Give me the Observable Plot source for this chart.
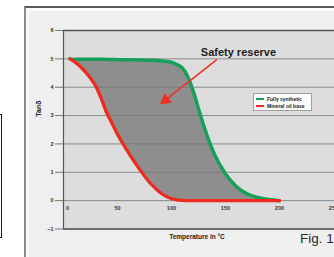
<!DOCTYPE html>
<html><head><meta charset="utf-8">
<script src="https://cdn.jsdelivr.net/npm/d3@7"></script>
<script src="https://cdn.jsdelivr.net/npm/@observablehq/plot@0.6"></script>
<style>
html,body{margin:0;padding:0;background:#fff;}
#wrap{position:relative;width:334px;height:257px;overflow:hidden;background:#fff;font-family:"Liberation Sans",Arial,sans-serif;}
#leftbox{position:absolute;left:-20px;top:114px;width:20px;height:122px;border:1.5px solid #1a1a1a;}
#panel{position:absolute;left:24px;top:6px;width:330px;height:260px;background:#efefef;border-top:2px solid #5a5a5a;border-left:2px solid #8a8a8a;box-shadow:inset 3px 3px 0 #fafafa;}
#chart{position:absolute;left:0;top:0;}
#legend{position:absolute;left:253px;top:93px;width:59px;height:18px;background:#fbfbfb;border:1px solid #a0a0a0;font-size:5px;font-weight:bold;color:#222;box-sizing:border-box;padding-top:2px;}
#legend .row{display:flex;align-items:center;height:6.5px;margin-left:2px;}
#legend .sw{width:8px;height:2px;margin-right:3px;}
#fig{position:absolute;left:300px;top:231px;font-size:13.5px;color:#2a2a2a;}
</style></head>
<body>
<div id="wrap">
  <div id="leftbox"></div>
  <div id="panel"></div>
  <div id="chart"></div>
  <div id="legend"></div>
  <div id="fig">Fig. 1</div>
</div>
<script>
const temperature = [6,10,15,20,25,30,35,40,45,50,60,70,80,90,100,105,110,115,120,125,130,135,140,150,160,170,180,190,200];
const fullySynthetic = [5.0,4.98,4.99,4.99,4.99,4.99,4.99,4.98,4.98,4.97,4.97,4.96,4.95,4.93,4.88,4.8,4.68,4.38,3.88,3.25,2.63,2.08,1.62,0.95,0.5,0.24,0.11,0.04,0.0];
const mineralOil = [5.0,4.9,4.75,4.55,4.32,4.03,3.6,3.1,2.72,2.34,1.7,1.13,0.63,0.27,0.07,0.03,0.01,0,0,0,0,0,0,0,0,0,0,0,0];
const seriesNames = ["Fully synthetic","Mineral oil base"];
const seriesColors = ["#17a05a","#ee2b1e"];
const xTicks = [0,50,100,150,200,250];
const yTicks = [-1,0,1,2,3,4,5,6];
const xTitle = "Temperature in °C";
const yTitle = "Tanδ";
const annotation = [{label:"Safety reserve", x:162, y:5.21}];
const arrowLine = [{x1:142, y1:4.97, x2:94.5, y2:3.55}];
const arrowHead = [{x:94.5, y:3.55}];

const rows = temperature.map((t,i)=>({t, syn: fullySynthetic[i], min: mineralOil[i]}));

const chart = Plot.plot({
  width: 334, height: 257,
  marginLeft: 63, marginRight: 0, marginTop: 30, marginBottom: 28.5,
  x: {domain: [0, 251]},
  y: {domain: [-1, 6]},
  style: {background: "transparent", fontFamily: "'Liberation Sans', Arial, sans-serif"},
  marks: [
    Plot.frame({fill: "#dddddd", stroke: null}),
    Plot.gridY(yTicks, {stroke: "#8a8a8a", strokeOpacity: 1, strokeWidth: 1}),
    Plot.areaY(rows, {x: "t", y1: "min", y2: "syn", fill: "#777777", fillOpacity: 0.78, curve: "monotone-x"}),
    Plot.lineY(rows, {x: "t", y: "syn", stroke: seriesColors[0], strokeWidth: 3.5, curve: "monotone-x"}),
    Plot.lineY(rows, {x: "t", y: "min", stroke: seriesColors[1], strokeWidth: 3.3, curve: "monotone-x"}),
    Plot.ruleY([6, -1], {stroke: "#555", strokeWidth: 1.3}),
    Plot.ruleX([0], {stroke: "#555", strokeWidth: 1.2}),
    Plot.axisY(yTicks, {tickSize: 8, tickPadding: 2, fontSize: 5.5, stroke: "#777", fill: "#333", fontWeight: "bold", label: null}),
    Plot.axisX({ticks: [], label: null}),
    Plot.text(xTicks.slice(0, 1), {x: d => d, y: 0, dy: 8, dx: 4, text: d => String(d), fontSize: 5.5, fill: "#333", fontWeight: "bold"}),
    Plot.text(xTicks.slice(1), {x: d => d, y: 0, dy: 8, text: d => String(d), fontSize: 5.5, fill: "#333", fontWeight: "bold"}),
    Plot.text([yTitle], {frameAnchor: "left", dx: -25, dy: -13, rotate: -90, fontSize: 7, fontWeight: "bold", fill: "#222"}),
    Plot.text([xTitle], {frameAnchor: "bottom", dx: -2, dy: 9.5, fontSize: 6.5, fontWeight: "bold", fill: "#222"}),
    Plot.text(annotation, {x: "x", y: "y", text: "label", fontSize: 11, fontWeight: "bold", fill: "#222"}),
    Plot.link(arrowLine, {x1: "x1", y1: "y1", x2: "x2", y2: "y2", stroke: "#ee3322", strokeWidth: 1.6}),
    Plot.dot(arrowHead, {x: "x", y: "y", symbol: "triangle", r: 4.5, rotate: 233, fill: "#ee3322", stroke: null})
  ]
});
document.getElementById("chart").appendChild(chart);

const legend = document.getElementById("legend");
seriesNames.forEach((n,i)=>{
  const r = document.createElement("div"); r.className = "row";
  const s = document.createElement("div"); s.className = "sw"; s.style.background = seriesColors[i];
  const t = document.createElement("span"); t.textContent = n;
  r.appendChild(s); r.appendChild(t); legend.appendChild(r);
});
</script>
</body></html>
